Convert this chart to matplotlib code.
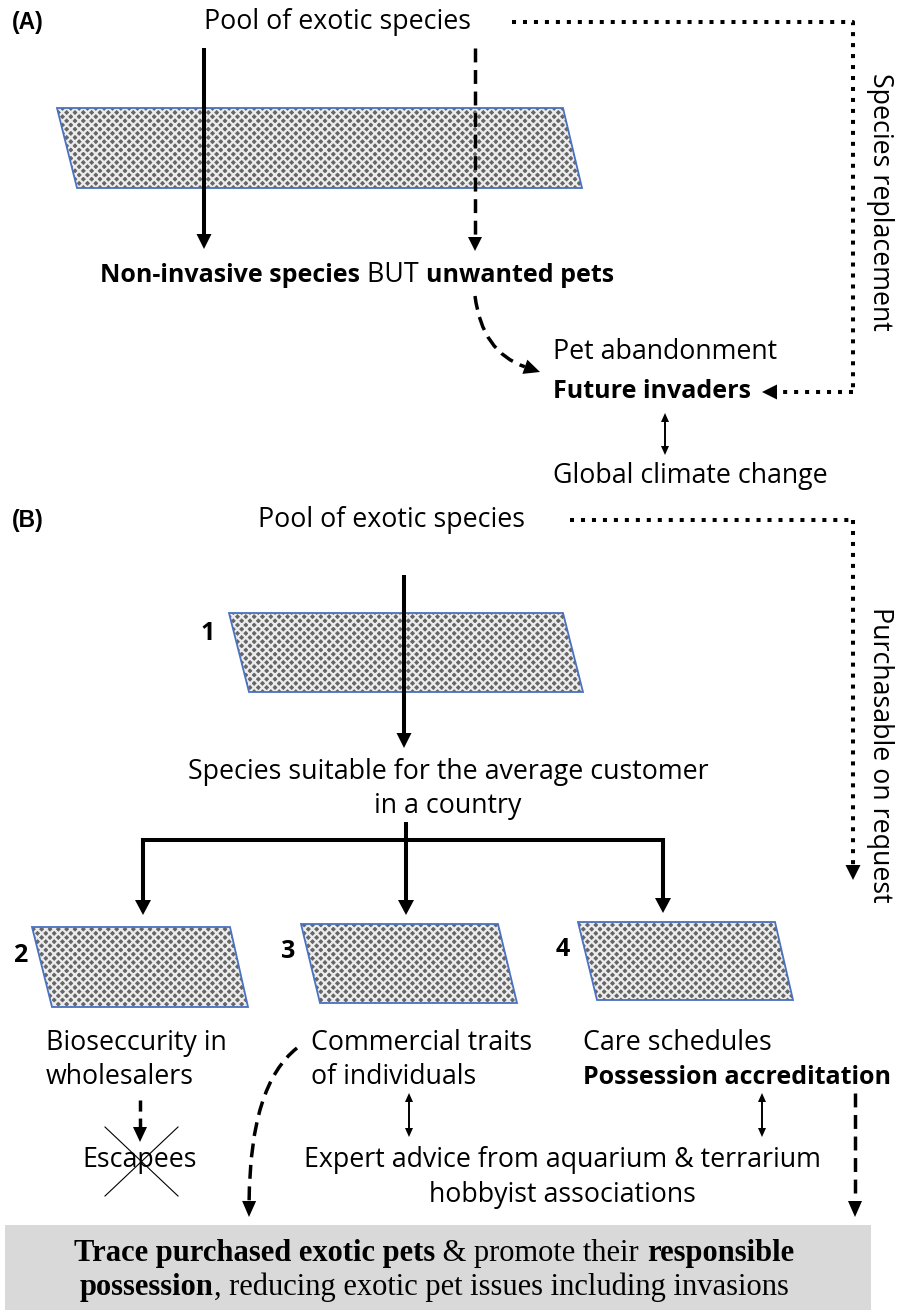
import matplotlib
matplotlib.use("Agg")
import matplotlib.pyplot as plt
from matplotlib.patches import Polygon, Rectangle, PathPatch
from matplotlib.path import Path
import numpy as np

plt.rcParams['lines.scale_dashes'] = False
plt.rcParams['hatch.linewidth'] = 1.6

SANS = ['Open Sans', 'DejaVu Sans']
SERIF = ['Liberation Serif', 'DejaVu Serif']
ARIAL = ['Liberation Sans', 'DejaVu Sans']

# ---------------- content ----------------
panel_labels = ["(A)", "(B)"]
pool_label = "Pool of exotic species"
a_result = [("Non-invasive species", "bold"), (" BUT ", "normal"), ("unwanted pets", "bold")]
a_side = ["Pet abandonment", "Future invaders", "Global climate change"]
a_vertical = "Species replacement"
b_vertical = "Purchasable on request"
b_suitable = ["Species suitable for the average customer", "in a country"]
filter_numbers = ["1", "2", "3", "4"]
filter_texts = [["Bioseccurity in", "wholesalers"],
                ["Commercial traits", "of individuals"],
                ["Care schedules", "Possession accreditation"]]
escapees = "Escapees"
expert = ["Expert advice from aquarium & terrarium", "hobbyist associations"]
box_line1 = [("Trace purchased exotic pets", "bold"), (" & promote their ", "normal"), ("responsible", "bold")]
box_line2 = [("possession", "bold"), (", reducing exotic pet issues including invasions", "normal")]

# filter shapes (parallelograms): TL, TR, BR, BL
filters = [
    [(57, 108), (563, 108), (582, 188), (77, 188)],
    [(229, 613), (563, 613), (583, 692), (249, 692)],
    [(32, 927), (230, 927), (248, 1007), (52, 1007)],
    [(301, 924), (498, 924), (517, 1003), (320, 1003)],
    [(578, 922), (775, 922), (793, 1000), (597, 1000)],
]

fig = plt.figure(figsize=(9.06, 13.10), dpi=100)
ax = fig.add_axes([0, 0, 1, 1])
ax.set_xlim(0, 906)
ax.set_ylim(1310, 0)
ax.axis('off')
renderer = fig.canvas.get_renderer()


def head(tip, direction, w, l):
    d = np.array(direction, float)
    d /= np.linalg.norm(d)
    n = np.array([-d[1], d[0]])
    tip = np.array(tip, float)
    base = tip - d * l
    pts = [tip, base + n * w / 2, base - n * w / 2]
    ax.add_patch(Polygon(pts, closed=True, facecolor='black', edgecolor='none', zorder=5))
    return base


def arrow(p0, p1, lw=2.9, ls='-', hw=16, hl=15):
    p0 = np.array(p0, float); p1 = np.array(p1, float)
    base = head(p1, p1 - p0, hw, hl)
    ax.plot([p0[0], base[0]], [p0[1], base[1]], color='black', lw=lw, ls=ls,
            solid_capstyle='butt', dash_capstyle='butt', zorder=4)


def darrow(x, y0, y1, hw=8, hl=9, lw=1.4):
    b0 = head((x, y0), (0, -1), hw, hl)
    b1 = head((x, y1), (0, 1), hw, hl)
    ax.plot([x, x], [b0[1], b1[1]], color='black', lw=lw, solid_capstyle='butt')


def curve(p0, c, p1, ls, lw=2.5, hw=15, hl=15):
    p0 = np.array(p0, float); c = np.array(c, float); p1 = np.array(p1, float)
    d = p1 - c
    base = head(p1, d, hw, hl)
    path = Path([p0, c, base], [Path.MOVETO, Path.CURVE3, Path.CURVE3])
    ax.add_patch(PathPatch(path, facecolor='none', edgecolor='black', lw=lw,
                           ls=ls, capstyle='butt', zorder=4))


def mixed(segments, x, y, family, size, bsize=None, ha='center'):
    bsize = bsize or size
    texts, widths = [], []
    for s, w in segments:
        t = ax.text(0, y, s, fontweight=w, family=family,
                    fontsize=bsize if w == 'bold' else size, va='center', ha='left')
        widths.append(t.get_window_extent(renderer).width)
        texts.append(t)
    cur = x - sum(widths) / 2 if ha == 'center' else x
    for t, w in zip(texts, widths):
        t.set_x(cur)
        cur += w


def filt(pts):
    ax.add_patch(Polygon(pts, closed=True, facecolor='#666666', edgecolor='#ececec',
                         hatch='xxxx', lw=0, zorder=1))
    ax.add_patch(Polygon(pts, closed=True, facecolor='none', edgecolor='#4a72c0',
                         lw=1.3, zorder=2))


FS = 19.3
FB = 18.0
DASH = (0, (10, 5.5))
DOT = (0, (2.9, 5.0))

# ---------------- Panel A ----------------
ax.text(12, 22, panel_labels[0], family=ARIAL, fontweight='bold', fontsize=16.5, va='center', ha='left')
ax.text(338, 22, pool_label, family=SANS, fontsize=FS, va='center', ha='center')
filt(filters[0])
arrow((204, 48), (204, 249), lw=2.9, hw=15, hl=15)
arrow((475, 48), (475, 251), lw=2.5, ls=DASH, hw=14, hl=14)
mixed(a_result, 357, 275, SANS, FS, FB)
curve((475, 296), (482, 352), (540, 372), DASH, lw=2.5, hw=15, hl=16)
ax.text(553, 352, a_side[0], family=SANS, fontsize=FS, va='center', ha='left')
ax.text(553, 392, a_side[1], family=SANS, fontsize=FB, fontweight='bold', va='center', ha='left')
ax.text(553, 476, a_side[2], family=SANS, fontsize=FS, va='center', ha='left')
darrow(665, 413, 455)
# dotted loop
ax.plot([512, 853, 853], [22, 22, 392], color='black', lw=2.9, ls=DOT, dash_capstyle='butt')
base = head((762, 392), (-1, 0), 15, 15)
ax.plot([853, base[0]], [392, 392], color='black', lw=2.9, ls=DOT, dash_capstyle='butt')
ax.text(880, 202, a_vertical, family=SANS, fontsize=FS, rotation=270, va='center', ha='center')

# ---------------- Panel B ----------------
ax.text(12, 520, panel_labels[1], family=ARIAL, fontweight='bold', fontsize=16.5, va='center', ha='left')
ax.text(392, 520, pool_label, family=SANS, fontsize=FS, va='center', ha='center')
ax.plot([570, 853], [520, 520], color='black', lw=2.9, ls=DOT, dash_capstyle='butt')
base = head((853, 880), (0, 1), 15, 15)
ax.plot([853, 853], [520, base[1]], color='black', lw=2.9, ls=DOT, dash_capstyle='butt')
ax.text(880, 755, b_vertical, family=SANS, fontsize=FS, rotation=270, va='center', ha='center')

filt(filters[1])
ax.text(208, 633, filter_numbers[0], family=SANS, fontsize=FB, fontweight='bold', va='center', ha='center')
arrow((404, 575), (404, 748), lw=2.9, hw=15, hl=15)
ax.text(448, 772, b_suitable[0], family=SANS, fontsize=FS, va='center', ha='center')
ax.text(448, 806, b_suitable[1], family=SANS, fontsize=FS, va='center', ha='center')

# bracket
ax.plot([143, 663], [840, 840], color='black', lw=2.9, solid_capstyle='projecting')
ax.plot([143, 143], [840, 900], color='black', lw=2.9, solid_capstyle='projecting')
ax.plot([663, 663], [840, 900], color='black', lw=2.9, solid_capstyle='projecting')
arrow((143, 840), (143, 915), lw=2.9, hw=16, hl=15)
arrow((406, 822), (406, 915), lw=2.9, hw=16, hl=15)
arrow((663, 840), (663, 913), lw=2.9, hw=16, hl=15)

num_x = [20, 288, 563]
num_y = [955, 952, 950]
text_x = [46, 311, 583]
for i in range(3):
    filt(filters[i + 2])
    ax.text(num_x[i], num_y[i], filter_numbers[i + 1], family=SANS, fontsize=FB,
            fontweight='bold', va='center', ha='center')
    ax.text(text_x[i], 1043, filter_texts[i][0], family=SANS, fontsize=FS, va='center', ha='left')
    ax.text(text_x[i], 1077, filter_texts[i][1], family=SANS, va='center', ha='left',
            fontsize=FB if i == 2 else FS,
            fontweight='bold' if i == 2 else 'normal')

# escapees
arrow((140, 1100), (140, 1142), lw=2.5, ls=(0, (8, 5)), hw=14, hl=15)
ax.text(140, 1160, escapees, family=SANS, fontsize=FS, va='center', ha='center')
ax.plot([105, 178], [1127, 1196], color='black', lw=0.8)
ax.plot([105, 178], [1196, 1127], color='black', lw=0.8)

curve((297, 1048), (250, 1085), (249, 1217), DASH, lw=2.5, hw=14, hl=16)
darrow(409, 1093, 1137)
darrow(762, 1093, 1137)
ax.text(562, 1160, expert[0], family=SANS, fontsize=FS, va='center', ha='center')
ax.text(562, 1195, expert[1], family=SANS, fontsize=FS, va='center', ha='center')
arrow((855, 1093), (855, 1217), lw=2.5, ls=DASH, hw=14, hl=16)

# bottom box
ax.add_patch(Rectangle((5, 1225), 866, 90, facecolor='#d9d9d9', edgecolor='none', zorder=0))
mixed(box_line1, 434, 1253, SERIF, 22)
mixed(box_line2, 434, 1287, SERIF, 22)

fig.savefig('out.png', dpi=100)
